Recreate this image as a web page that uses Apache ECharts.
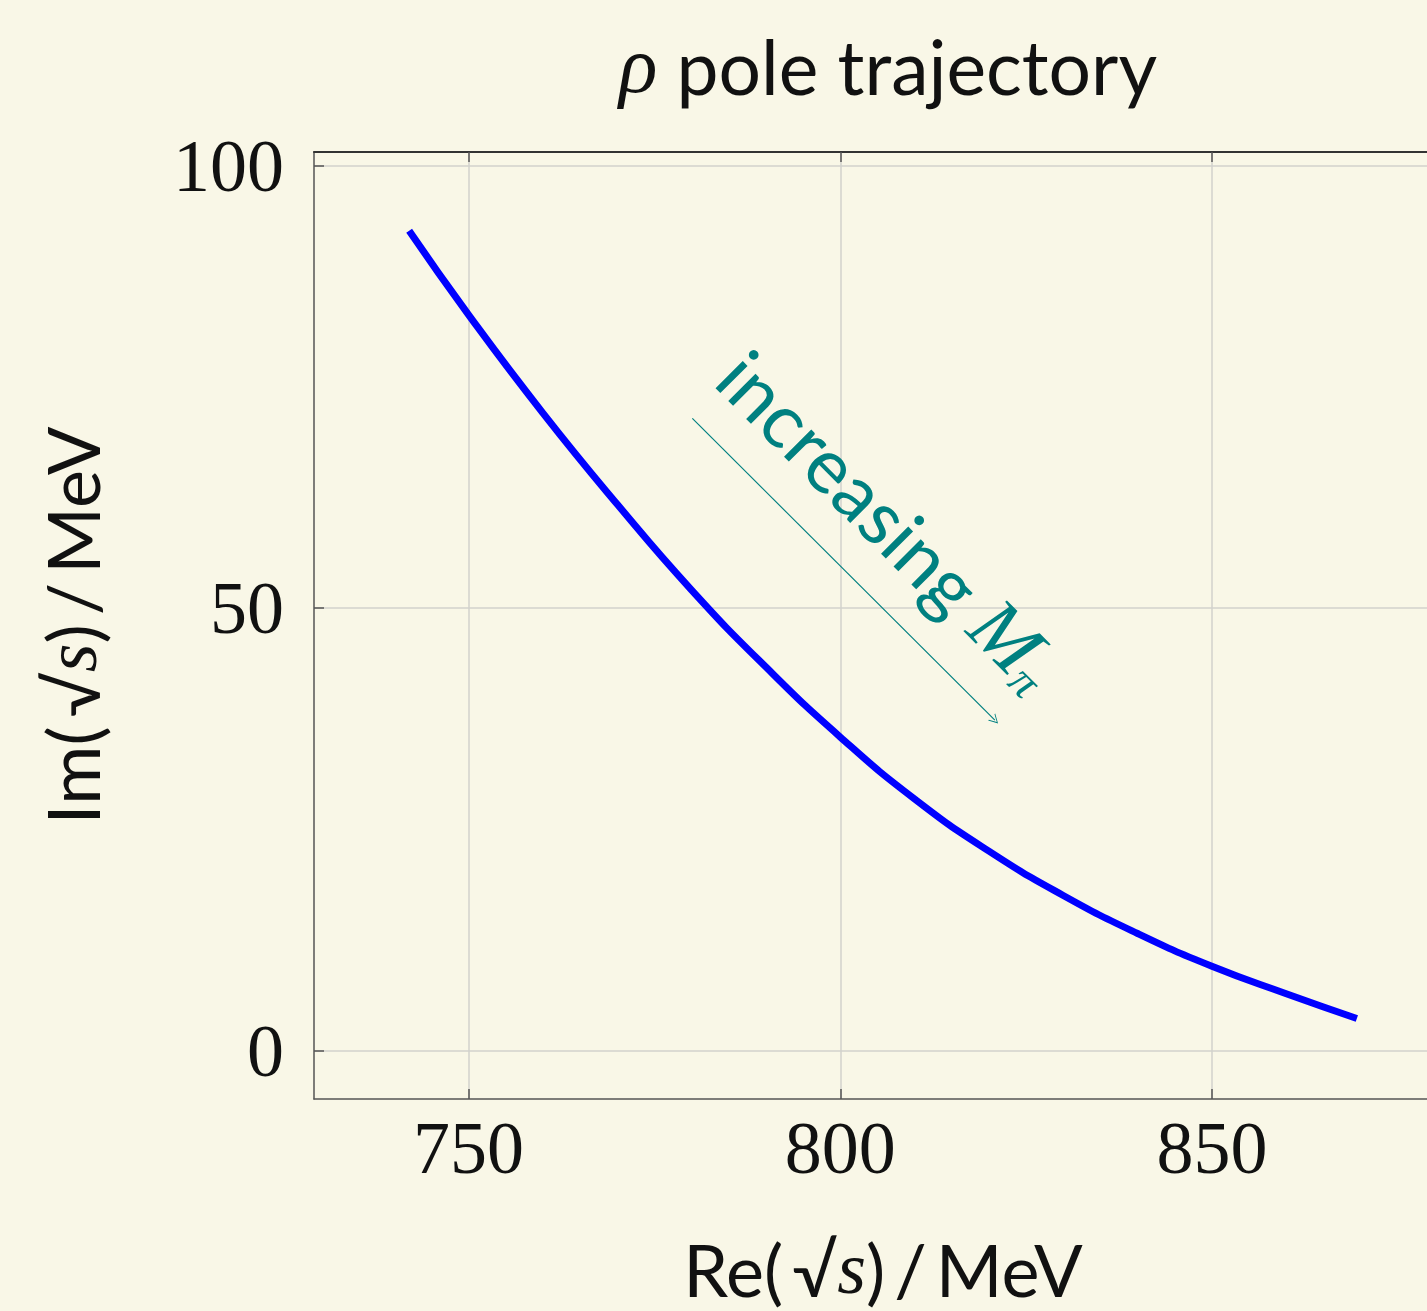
<!DOCTYPE html>
<html>
<head>
<meta charset="utf-8">
<title>rho pole trajectory</title>
<script src="https://cdn.jsdelivr.net/npm/echarts@6/dist/echarts.min.js"></script>
<style>
  html, body { margin: 0; padding: 0; background: #f9f7e7; overflow: hidden; }
  /* 画布比窗口略宽：原图右边框在画面之外 */
  #chart { width: 1452px; height: 1311px; }
</style>
</head>
<body>
<div id="chart"></div>
<script>
// ---- 数据----
const reVals = [742.0, 750, 760, 770, 780, 790, 800, 810, 820, 830, 840, 850, 860, 869.5];
const imVals = [92.6, 83.1, 72.0, 61.7, 52.0, 43.3, 35.4, 28.4, 22.5, 17.5, 13.2, 9.5, 6.4, 3.6];
const xTicks = [750, 800, 850];
const yTicks = [0, 50, 100];
// 箭头起止点与文字位置（数据坐标）
const arrowFrom = [780.1, 71.4];
const arrowTo = [820.8, 37.3];
const labelAt = [806.1, 59.5];

const SANS = 'Lato, "Noto Sans", sans-serif';
const SERIF = '"Liberation Serif", "DejaVu Serif", serif';
const AXIS_DARK = '#555';
const GRID_GRAY = '#d2d2cc';
const TEAL = '#008080';
const TS = '\u2009';

const points = reVals.map((x, i) => [x, imVals[i]]);

const chart = echarts.init(document.getElementById('chart'));
chart.setOption({
  backgroundColor: '#f9f7e7',
  animation: false,
  title: {
    text: '{i|ρ} pole trajectory',
    left: 883,
    textAlign: 'center',
    top: 26,
    textStyle: {
      fontFamily: SANS, fontSize: 75, fontWeight: 'normal', color: '#111',
      rich: { i: { fontFamily: SERIF, fontStyle: 'italic', fontSize: 80, color: '#111' } }
    }
  },
  grid: { left: 314, right: 0, top: 152, bottom: 212, outerBoundsMode: 'none' },
  xAxis: [{
    type: 'value', min: 729.2, max: 882.3,
    name: 'Re(' + TS + '√{s|s})' + TS + '/' + TS + 'MeV',
    nameLocation: 'middle', nameGap: 138,
    nameTextStyle: {
      fontFamily: SANS, fontSize: 72, color: '#111',
      rich: { s: { fontFamily: SERIF, fontStyle: 'italic', fontSize: 74, color: '#111' } }
    },
    axisLine: { show: true, onZero: false, lineStyle: { color: AXIS_DARK, width: 1.5 } },
    axisTick: { show: true, inside: true, length: 10, customValues: xTicks, lineStyle: { color: AXIS_DARK, width: 1.5 } },
    axisLabel: { customValues: xTicks, margin: 18, fontFamily: SERIF, fontSize: 74, color: '#111' },
    splitLine: { show: true, lineStyle: { color: GRID_GRAY, width: 1.5 } }
  }, {
    type: 'value', min: 729.2, max: 882.3, position: 'top',
    axisLine: { show: true, onZero: false, lineStyle: { color: '#333', width: 2 } },
    axisTick: { show: true, inside: true, length: 10, customValues: xTicks, lineStyle: { color: AXIS_DARK, width: 1.5 } },
    axisLabel: { show: false },
    splitLine: { show: false }
  }],
  yAxis: {
    type: 'value', min: -5.5, max: 101.5,
    name: 'Im(' + TS + '√{s|s})' + TS + '/' + TS + 'MeV',
    nameLocation: 'middle', nameGap: 200, nameRotate: 90,
    nameTextStyle: {
      fontFamily: SANS, fontSize: 72, color: '#111',
      rich: { s: { fontFamily: SERIF, fontStyle: 'italic', fontSize: 74, color: '#111' } }
    },
    axisLine: { show: true, onZero: false, lineStyle: { color: AXIS_DARK, width: 1.5 } },
    axisTick: { show: true, inside: true, length: 10, customValues: yTicks, lineStyle: { color: AXIS_DARK, width: 1.5 } },
    axisLabel: {
      customValues: yTicks, margin: 30, color: '#111',
      formatter: (v) => '{v|' + v + '}',
      rich: { v: { fontFamily: SERIF, fontSize: 74, color: '#111', padding: [12, 0, 0, 0] } }
    },
    splitLine: { show: true, lineStyle: { color: GRID_GRAY, width: 1.5 } }
  },
  series: [{
    type: 'line',
    data: points,
    smooth: 0.5,
    showSymbol: false,
    lineStyle: { color: '#0000ff', width: 7 },
    itemStyle: { color: '#0000ff' },
    markLine: {
      silent: true,
      symbol: ['none', 'path://M0,10 L5,0 L10,10 L9,10 L5,2 L1,10 Z'],
      symbolSize: [10, 9],
      label: { show: false },
      lineStyle: { color: TEAL, width: 1.2, type: 'solid' },
      data: [[{ coord: arrowFrom }, { coord: arrowTo }]]
    },
    markPoint: {
      silent: true,
      symbol: 'circle',
      symbolSize: 0,
      data: [{ coord: labelAt }],
      label: {
        show: true,
        position: 'inside',
        rotate: -45,
        formatter: '{a|increasing }{m|M}{p|π}',
        rich: {
          a: { fontFamily: SANS, fontSize: 76, color: TEAL },
          m: { fontFamily: SERIF, fontStyle: 'italic', fontSize: 80, color: TEAL },
          p: { fontFamily: SERIF, fontStyle: 'italic', fontSize: 46, color: TEAL, padding: [32, 0, 0, 0] }
        }
      }
    }
  }]
});
</script>
</body>
</html>
